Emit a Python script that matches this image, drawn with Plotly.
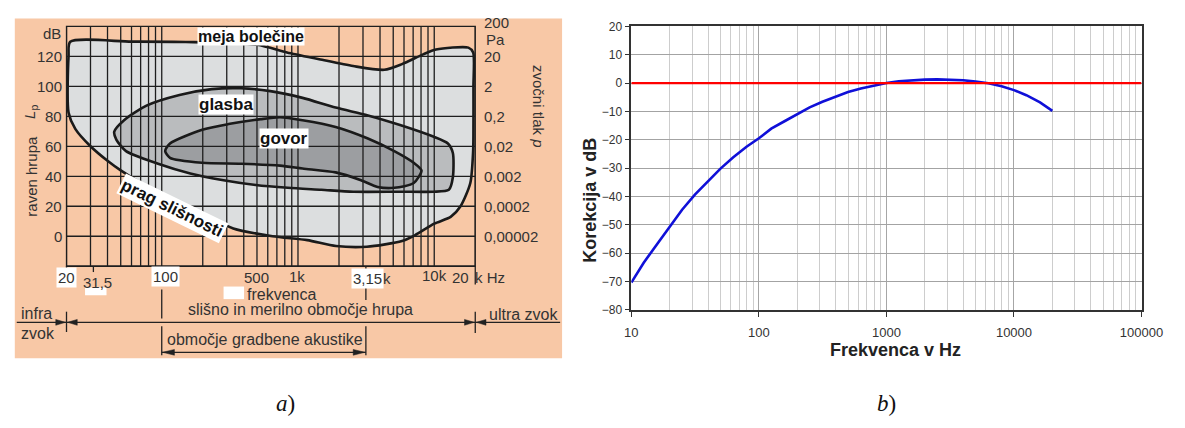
import math
import plotly.graph_objects as go

W, H = 1185, 428
SANS = "Liberation Sans, Arial, sans-serif"
SERIF = "Liberation Serif, Times New Roman, serif"

# ---------------- data: panel a (hearing area) ----------------
hearing_hz = [21.3, 60, 150, 500, 830, 1430, 2540, 4300, 5800, 8300, 10300, 17800, 19300,
              19400, 19400, 19300, 18400, 15600, 13200, 10000, 7200, 5800, 3200, 1900, 1170,
              650, 335, 190, 94, 50, 40, 30, 23.2, 20.7, 20.7]
hearing_db = [129.7, 129.8, 129.6, 127.7, 122.6, 118.1, 113.5, 111.0, 114.8, 121.3, 124.5, 125.8, 122.6,
              100, 75, 57, 35.5, 20.0, 12.9, 8.4, 0.6, -3.2, -7.0, -6.5, -2.6,
              0, 5.2, 16.1, 29.0, 43.9, 50.3, 60.0, 71.6, 82.6, 120]

music_hz = [44.8, 52.9, 77.3, 135, 233, 382, 627, 1080, 1890, 3260, 5610, 9830, 12600, 13700,
            13700, 12800, 9830, 5610, 2540, 1480, 843, 490, 284, 162, 94, 54.7, 46.4]
music_db = [69.7, 77.4, 87.1, 94.2, 98.1, 98.7, 96.8, 92.3, 85.8, 80.6, 74.2, 66.5, 61.9, 55.5,
            39.4, 31.0, 29.7, 29.7, 29.7, 31.0, 32.3, 34.2, 37.4, 41.9, 48.4, 56.8, 64.5]

speech_hz = [106, 115, 198, 309, 532, 739, 1080, 1890, 3260, 5090, 7070, 8060,
             7070, 5090, 3840, 2900, 1890, 1080, 739, 382, 198, 115]
speech_db = [56.8, 61.9, 71.0, 74.8, 78.1, 79.4, 77.4, 72.9, 65.2, 56.8, 49.0, 43.9,
             35.5, 32.3, 32.9, 37.4, 42.6, 45.2, 47.1, 48.4, 49.0, 52.3]

grid_hz = [20, 30, 40, 50, 60, 70, 80, 90, 100, 200, 300, 400, 500, 600, 700, 800, 900,
           1000, 2000, 3000, 4000, 5000, 6000, 7000, 8000, 9000, 10000, 20000]
grid_db = [-20, 0, 20, 40, 60, 80, 100, 120, 140]
level_ticks = [0, 20, 40, 60, 80, 100, 120]
pressure_db = [0, 20, 40, 60, 80, 100, 120, 140]
pressure_labels = ["0,00002", "0,0002", "0,002", "0,02", "0,2", "2", "20", "200"]

# ---------------- data: panel b (A-weighting correction) ----------------
corr_hz = [10, 12.5, 16, 20, 25, 31.5, 40, 50, 63, 80, 100, 125, 160, 200, 250, 315, 400, 500,
           630, 800, 1000, 1250, 1600, 2000, 2500, 3150, 4000, 5000, 6300, 8000, 10000,
           12500, 16000, 20000]
corr_db = [-70.4, -63.4, -56.7, -50.5, -44.7, -39.4, -34.6, -30.2, -26.2, -22.5, -19.5, -16.1,
           -13.4, -10.9, -8.6, -6.6, -4.8, -3.2, -1.9, -0.8, 0.0, 0.6, 1.0, 1.2, 1.3, 1.2, 1.0,
           0.5, -0.1, -1.1, -2.5, -4.3, -6.8, -9.8]
ref_hz = [10, 100000]
ref_db = [0, 0]
b_xticks = [10, 100, 1000, 10000, 100000]
b_xlabels = ["10", "100", "1000", "10000", "100000"]

# ---------------- layout helpers ----------------
def pxx(p):
    return p / W

def pxy(p):
    return 1 - p / H

xa_dom = [pxx(61), pxx(480)]
ya_dom = [pxy(268), pxy(20)]
xb_dom = [pxx(640), pxx(1163)]
yb_dom = [pxy(313), pxy(20)]

def fa(f):
    return xa_dom[0] + (math.log10(f) - math.log10(20)) / 3 * (xa_dom[1] - xa_dom[0])

def da(d):
    return ya_dom[0] + (d + 20) / 160 * (ya_dom[1] - ya_dom[0])

fig = go.Figure()

def region(xs, ys, color):
    fig.add_trace(go.Scatter(x=xs + [xs[0]], y=ys + [ys[0]], mode="lines", fill="toself",
                             fillcolor=color,
                             line=dict(color="#1a1a1a", width=2.6, shape="spline", smoothing=0.7),
                             xaxis="x", yaxis="y", hoverinfo="skip"))

region(hearing_hz, hearing_db, "#dcdedf")
region(music_hz, music_db, "#babcbe")
region(speech_hz, speech_db, "#9c9ea1")

gx, gy = [], []
for f in grid_hz:
    gx += [f, f, None]
    gy += [-20, 140, None]
for d in grid_db:
    gx += [20, 20000, None]
    gy += [d, d, None]
fig.add_trace(go.Scatter(x=gx, y=gy, mode="lines", line=dict(color="#1e1e1e", width=1.3),
                         xaxis="x", yaxis="y", hoverinfo="skip"))

# panel b
fig.add_trace(go.Scatter(x=corr_hz, y=corr_db, mode="lines", line=dict(color="#1010d8", width=2.6),
                         xaxis="x2", yaxis="y2", hoverinfo="skip"))
fig.add_trace(go.Scatter(x=ref_hz, y=ref_db, mode="lines", line=dict(color="#ff0000", width=2.2),
                         xaxis="x2", yaxis="y2", hoverinfo="skip"))

minor_vals = [m * 10 ** e for e in range(1, 5) for m in range(2, 10)]

# ---------------- shapes ----------------
shapes = []
shapes.append(dict(type="rect", xref="paper", yref="paper", x0=pxx(8), x1=pxx(569), y0=pxy(363),
                   y1=pxy(12), fillcolor="#f8c8a6", line=dict(width=0), layer="below"))
shapes.append(dict(type="rect", xref="paper", yref="paper", x0=xa_dom[0], x1=xa_dom[1], y0=ya_dom[0],
                   y1=ya_dom[1], line=dict(color="#1e1e1e", width=1.3), layer="above"))

def vline(f, y0, y1, w=1.3):
    shapes.append(dict(type="line", xref="paper", yref="paper", x0=fa(f), x1=fa(f), y0=pxy(y0), y1=pxy(y1),
                       line=dict(color="#222", width=w), layer="above"))

def hline(x0, x1, y, w=1.3):
    shapes.append(dict(type="line", xref="paper", yref="paper", x0=pxx(x0), x1=pxx(x1), y0=pxy(y), y1=pxy(y),
                       line=dict(color="#222", width=w), layer="above"))

vline(20, 268, 276)
vline(20, 315, 336)
vline(31.5, 268, 274)
vline(100, 268, 275)
vline(100, 292, 322)
vline(100, 330, 360)
vline(3150, 268, 275)
vline(3150, 290, 303)
vline(3150, 330, 360)
vline(20000, 268, 287)
vline(20000, 315, 337)
hline(10, 567, 326)
hline(fa(100) * W, fa(3150) * W, 357)

def wbox(x0, x1, y0, y1):
    shapes.append(dict(type="rect", xref="paper", yref="paper", x0=pxx(x0), x1=pxx(x1), y0=pxy(y1),
                       y1=pxy(y0), fillcolor="white", line=dict(width=0), layer="above"))

wbox(80, 102, 290, 298)
wbox(222, 243, 289, 302)

def tri(tip_x, tip_y, direction, length=10, half=3):
    bx = tip_x - direction * length
    path = "M {:.5f} {:.5f} L {:.5f} {:.5f} L {:.5f} {:.5f} Z".format(
        pxx(tip_x), pxy(tip_y), pxx(bx), pxy(tip_y - half), pxx(bx), pxy(tip_y + half))
    shapes.append(dict(type="path", xref="paper", yref="paper", path=path,
                       fillcolor="#222", line=dict(color="#222", width=0.5), layer="above"))

a20 = fa(20) * W
a20k = fa(20000) * W
tri(a20 - 1, 326, +1)
tri(a20 + 1, 326, -1)
tri(a20k - 1, 326, +1)
tri(a20k + 1, 326, -1)
tri(fa(100) * W + 1, 357, -1, length=12)
tri(fa(3150) * W - 1, 357, +1, length=12)

# ---------------- annotations ----------------
ann = []

def A(text, x, y, size=15, color="#333", xanchor="center", yanchor="middle", bg=None, angle=0,
      family=SANS, pad=1, xshift=0):
    d = dict(text=text, x=x, y=y, xref="paper", yref="paper", showarrow=False,
             font=dict(size=size, color=color, family=family), xanchor=xanchor, yanchor=yanchor,
             textangle=angle, borderpad=pad, xshift=xshift)
    if bg:
        d["bgcolor"] = bg
    ann.append(d)

for d in level_ticks:
    A(str(d), pxx(58), da(d), xanchor="right")
A("dB", pxx(57), pxy(27), xanchor="right")
for d, lab in zip(pressure_db, pressure_labels):
    yy = pxy(16) if d == 140 else da(d)
    A(lab, pxx(488), yy, xanchor="left", pad=0)
A("Pa", pxx(490), pxy(34), xanchor="left", pad=0)

A("<i>L</i><sub>p</sub>", pxx(24), pxy(108), size=15, angle=-90)
A("raven hrupa", pxx(25), pxy(175), size=15, angle=-90)
A("zvočni tlak <i>p</i>", pxx(545), pxy(103), size=15, angle=90)

# frequency labels
A("20", fa(20), pxy(280), bg="white", xshift=0)
A("31,5", fa(31.5), pxy(285), xshift=4)
A("100", fa(100), pxy(279), bg="white", xshift=4)
A("500", fa(500), pxy(280))
A("1k", fa(1000), pxy(279), xshift=-1)
A("3,15", fa(3150), pxy(281), bg="white", xshift=2)
A("k", fa(3150), pxy(281), xanchor="left", xshift=15)
A("10k", fa(10000), pxy(278))
A("20", fa(20000), pxy(280), xanchor="right", xshift=-4)
A("k Hz", fa(20000), pxy(280), xanchor="left", xshift=-2)

A("frekvenca", pxx(281), pxy(297), size=16)
A("slišno in merilno območje hrupa", pxx(301), pxy(313), size=16)
A("infra", pxx(12), pxy(317), size=16, xanchor="left")
A("zvok", pxx(12), pxy(338), size=16, xanchor="left")
A("ultra zvok", pxx(567), pxy(318), size=16, xanchor="right")
A("območje gradbene akustike", pxx(264), pxy(344), size=16)

# bold white-boxed labels
A("<b>meja bolečine</b>", pxx(250), pxy(30), size=16, color="#111", bg="white", pad=0)
A("<b>glasba</b>", pxx(224), pxy(101), size=17, color="#111", bg="white", pad=0)
A("<b>govor</b>", pxx(284), pxy(136), size=17, color="#111", bg="white", pad=0)
A("<b>prag slišnosti</b>", pxx(170), pxy(208), size=17, color="#111", bg="white", pad=1, angle=26)

# panel b titles
A("<b>Frekvenca v Hz</b>", pxx(911), pxy(355), size=18, color="#222")
A("<b>Korekcija v dB</b>", pxx(598), pxy(200), size=18, color="#222", angle=-90)

# subfigure labels
A("<i>a</i>)", pxx(285), pxy(410), size=23, color="#111", family=SERIF)
A("<i>b</i>)", pxx(902), pxy(410), size=23, color="#111", family=SERIF)

fig.update_layout(
    width=W, height=H, margin=dict(l=0, r=0, t=0, b=0),
    paper_bgcolor="white", plot_bgcolor="rgba(0,0,0,0)", showlegend=False,
    xaxis=dict(type="log", range=[math.log10(20), math.log10(20000)], domain=xa_dom, anchor="y",
               visible=False),
    yaxis=dict(range=[-20, 140], domain=ya_dom, anchor="x", visible=False),
    xaxis2=dict(type="log", range=[1, 5], domain=xb_dom, anchor="y2",
                tickvals=b_xticks, ticktext=b_xlabels, ticks="outside", ticklen=5, tickwidth=1,
                tickcolor="#333", showline=True, linecolor="#333", linewidth=1.5, mirror=True,
                showgrid=True, gridcolor="#a6a6a6", gridwidth=1, zeroline=False, ticklabelstandoff=5,
                minor=dict(tickvals=minor_vals, showgrid=True, gridcolor="#cdcdcd", gridwidth=1, ticks=""),
                tickfont=dict(family=SANS, size=13, color="#333")),
    yaxis2=dict(range=[-80, 20], domain=yb_dom, anchor="x2", tickvals=list(range(-80, 21, 10)),
                ticks="outside", ticklen=5, tickwidth=1, tickcolor="#333", showline=True,
                linecolor="#333", linewidth=1.5, mirror=True, showgrid=True, gridcolor="#a3a3a3",
                gridwidth=1, zeroline=False, tickfont=dict(family=SANS, size=12, color="#333")),
    shapes=shapes, annotations=ann,
)

fig.write_html("out.html")
